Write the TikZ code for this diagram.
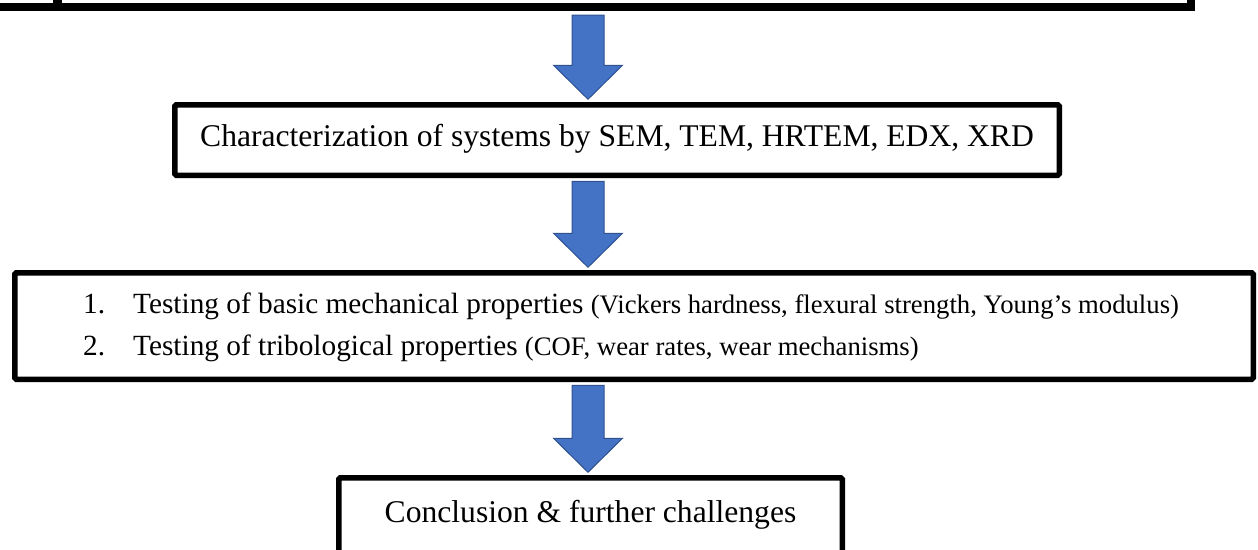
\documentclass[tikz,border=0pt]{standalone}
\usepackage{fontspec}
\setmainfont{Liberation Serif}
\usetikzlibrary{calc}
\definecolor{arrfill}{HTML}{4472C4}
\definecolor{arrline}{HTML}{2F528F}
\tikzset{
  framebox/.style={draw=black, line width=5.5pt, inner sep=0pt, rounded corners=1.5pt},
  topframe/.style={draw=black, line width=8pt, inner sep=0pt},
  bigtext/.style={inner sep=0pt, font=\fontsize{31.6}{38}\selectfont},
  listtext/.style={inner sep=0pt, font=\fontsize{29.3}{35}\selectfont},
  blockarr/.style={fill=arrfill, draw=arrline, line width=1pt, line join=miter},
}
\newcommand\blockarrow[2]{%
  \draw[blockarr] let \p1=(#1), \p2=(#2) in
    (\x1-16pt,\y1) -- (\x1+16pt,\y1) -- (\x1+16pt,\y2+34pt) -- (\x1+34.5pt,\y2+34pt)
    -- (\x1,\y2) -- (\x1-34.5pt,\y2+34pt) -- (\x1-16pt,\y2+34pt) -- cycle;}
\begin{document}
\begin{tikzpicture}[x=1pt,y=-1pt]
\useasboundingbox (0,0) rectangle (1258,549);
% top box (cut off)
\node[topframe, minimum width=1211pt, minimum height=106.7pt] (box1) at (585.5,-46.65) {};
\fill (53,0) rectangle (62,3);
% box 2
\node[framebox, minimum width=884.5pt, minimum height=70.5pt] (box2) at (617,140) {};
\node[bigtext, anchor=base] (t2) at (617,146) {Characterization of systems by SEM, TEM, HRTEM, EDX, XRD};
% box 3
\node[framebox, minimum width=1238.5pt, minimum height=106.5pt] (box3) at (634,326) {};
\node[listtext, anchor=base west] (n1) at (83,313) {1.};
\node[listtext, anchor=base west] (l1) at (133,313) {Testing of basic mechanical properties {\fontsize{26.7}{32}\selectfont(Vickers hardness, flexural strength, Young’s modulus)}};
\node[listtext, anchor=base west] (n2) at (83,355) {2.};
\node[listtext, anchor=base west] (l2) at (133,355) {Testing of tribological properties {\fontsize{26.7}{32}\selectfont(COF, wear rates, wear mechanisms)}};
% box 4 (cut off)
\node[framebox, minimum width=503.5pt, minimum height=102.25pt] (box4) at (590.5,528.9) {};
\node[bigtext, anchor=base] (t4) at (590.5,522) {Conclusion \& further challenges};
% arrows
\coordinate (ax) at (588,0);
\blockarrow{$(box1.south -| ax)+(0,4.5)$}{$(box2.north -| ax)+(0,-2.75)$}
\blockarrow{$(box2.south -| ax)+(0,3.25)$}{$(box3.north -| ax)+(0,-2.75)$}
\blockarrow{$(box3.south -| ax)+(0,3.25)$}{$(box4.north -| ax)+(0,-2.75)$}
\end{tikzpicture}
\end{document}
